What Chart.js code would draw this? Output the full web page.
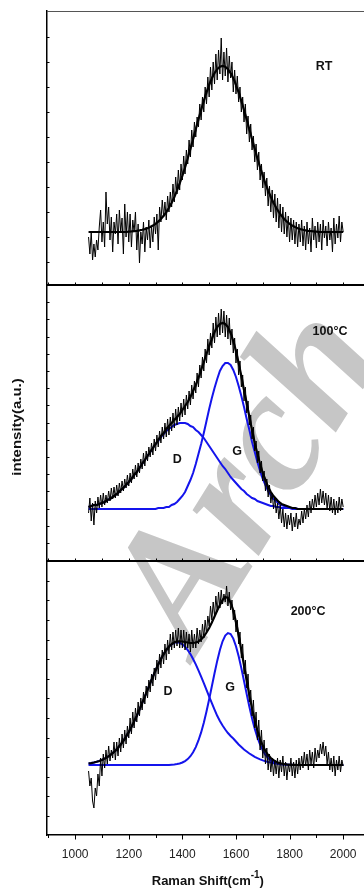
<!DOCTYPE html>
<html>
<head>
<meta charset="utf-8">
<title>Raman spectra</title>
<script src="https://cdn.jsdelivr.net/npm/chart.js@4.4.1/dist/chart.umd.min.js"></script>
<style>
    html, body { margin: 0; padding: 0; background: #fff; overflow: hidden; }
    #wrap { position: relative; width: 364px; height: 888px; overflow: hidden; }
    #chart { position: absolute; left: 0; top: 0; }
</style>
</head>
<body>
<div id="wrap"><canvas id="chart" width="370" height="888"></canvas></div>
<script>
// Raman shift grids (cm-1)
const shiftRaw = [
    1050,1055,1060,1065,1070,1075,1080,1085,1090,1095,
    1100,1105,1110,1115,1120,1125,1130,1135,1140,1145,
    1150,1155,1160,1165,1170,1175,1180,1185,1190,1195,
    1200,1205,1210,1215,1220,1225,1230,1235,1240,1245,
    1250,1255,1260,1265,1270,1275,1280,1285,1290,1295,
    1300,1305,1310,1315,1320,1325,1330,1335,1340,1345,
    1350,1355,1360,1365,1370,1375,1380,1385,1390,1395,
    1400,1405,1410,1415,1420,1425,1430,1435,1440,1445,
    1450,1455,1460,1465,1470,1475,1480,1485,1490,1495,
    1500,1505,1510,1515,1520,1525,1530,1535,1540,1545,
    1550,1555,1560,1565,1570,1575,1580,1585,1590,1595,
    1600,1605,1610,1615,1620,1625,1630,1635,1640,1645,
    1650,1655,1660,1665,1670,1675,1680,1685,1690,1695,
    1700,1705,1710,1715,1720,1725,1730,1735,1740,1745,
    1750,1755,1760,1765,1770,1775,1780,1785,1790,1795,
    1800,1805,1810,1815,1820,1825,1830,1835,1840,1845,
    1850,1855,1860,1865,1870,1875,1880,1885,1890,1895,
    1900,1905,1910,1915,1920,1925,1930,1935,1940,1945,
    1950,1955,1960,1965,1970,1975,1980,1985,1990,1995,
    2000
];
const shiftFit = [
    1050,1060,1070,1080,1090,1100,
    1110,1120,1130,1140,1150,1160,1170,1180,1190,1200,
    1210,1220,1230,1240,1250,1260,1270,1280,1290,1300,
    1310,1320,1330,1340,1350,1360,1370,1380,1390,1400,
    1410,1420,1430,1440,1450,1460,1470,1480,1490,1500,
    1510,1520,1530,1540,1550,1560,1570,1580,1590,1600,
    1610,1620,1630,1640,1650,1660,1670,1680,1690,1700,
    1710,1720,1730,1740,1750,1760,1770,1780,1790,1800,
    1810,1820,1830,1840,1850,1860,1870,1880,1890,1900,
    1910,1920,1930,1940,1950,1960,1970,1980,1990,2000
];

// RT spectrum
const rawRT = [
    25,8,30,2,18,5,22,12,35,52,
    20,40,15,70,38,55,22,45,10,40,
    28,48,18,52,30,44,8,58,25,50,
    20,48,15,42,30,50,12,38,-1,30,
    18,40,10,35,22,42,14,36,20,45,
    28,48,12,55,40,62,45,60,42,66,
    50,70,55,78,60,85,68,92,72,98,
    82,106,88,112,98,122,105,132,115,140,
    125,145,135,158,142,165,150,175,158,185,
    165,195,172,200,178,208,182,212,188,224,
    182,210,186,214,180,206,184,200,170,192,
    168,186,160,175,150,165,140,158,128,146,
    120,138,112,126,100,118,92,110,82,98,
    74,90,66,84,56,76,50,72,44,68,
    40,64,34,58,30,55,28,50,25,46,
    20,44,22,42,18,40,15,38,20,42,
    16,36,12,40,18,34,10,44,22,36,
    14,40,20,38,12,42,24,36,16,40,
    22,34,10,44,18,38,24,46,20,40,
    30
];
const fitRT = [
    30,30,30,30,30,30,
    30,30,30,30,30,30,30,30,30,30.4,
    30.6,30.9,31.2,31.6,32.2,32.9,33.8,35,36.4,38.2,
    40.4,43.1,46.2,49.9,54.3,59.3,65,71.4,78.5,86.3,
    94.7,103.7,113.1,122.8,132.7,142.5,152,161.2,169.6,177.2,
    183.7,189,192.8,195.2,196,195.2,192.8,189,183.7,177.2,
    169.6,161.2,152,142.5,132.7,122.8,113.1,103.7,94.7,86.3,
    78.5,71.4,65,59.3,54.3,49.9,46.2,43.1,40.4,38.2,
    36.4,35,33.8,32.9,32.2,31.6,31.2,30.9,30.6,30.4,
    30,30,30,30,30,30,30,30,30,30
];

// 100°C spectrum
const raw100 = [
    30,45,22,40,18,42,30,46,35,48,
    36,50,38,48,40,52,42,55,44,56,
    45,58,47,60,50,62,52,64,55,68,
    57,70,60,74,64,78,66,80,70,84,
    74,90,77,92,82,96,86,100,88,104,
    92,108,96,112,100,116,104,120,106,124,
    108,126,112,130,115,134,118,136,122,140,
    126,144,128,148,134,152,138,158,144,162,
    150,170,156,178,165,186,172,194,180,204,
    188,210,195,220,200,226,206,230,208,234,
    210,232,206,228,204,225,198,214,190,205,
    180,194,168,182,156,168,142,156,130,142,
    118,128,104,116,92,102,80,92,70,82,
    62,72,52,64,46,58,40,50,34,46,
    30,40,24,38,20,34,16,30,14,28,
    18,30,12,26,16,30,14,24,18,32,
    20,34,24,38,26,42,30,44,34,48,
    36,50,38,54,40,52,38,50,34,48,
    32,46,30,44,28,42,30,46,32,44,
    36
];
const fit100 = [
    36,37,38,38,39,40,
    41,43,44,46,48,50,53,55,58,61,
    64,68,71,75,79,83,87,91,95,99,
    103,107,110,114,117,120,123,126,129,133,
    137,141,146,152,158,165,173,181,189,197,
    204,211,216,219,220,219,216,210,202,192,
    180,167,153,140,126,113,100,89,79,70,
    63,56,51,47,44,41,39,38,37,36,
    35,35,34,34,34,34,34,34,34,34,
    34,34,34,34,34,34,34,34,34,34
];
const band100D = [
    36,37,38,38,39,40,
    41,43,44,46,48,50,53,55,58,61,
    64,68,71,75,79,83,87,91,95,99,
    102,106,109,112,114,116,118,119,120,120,
    120,119,117,116,113,111,108,105,101,97,
    93,89,85,81,77,74,70,66,63,60,
    57,54,52,49,47,45,44,42,41,40,
    39,38,37,37,36,36,35,35,35,35,
    34,34,34,34,34,34,34,34,34,34,
    34,34,34,34,34,34,34,34,34,34
];
const band100G = [
    34,34,34,34,34,34,
    34,34,34,34,34,34,34,34,34,34,
    34,34,34,34,34,34,34,34,34,34,
    35,35,35,36,36,38,39,41,44,47,
    51,57,63,70,79,89,99,110,122,134,
    145,155,164,172,177,180,180,178,173,166,
    157,147,136,124,113,101,91,81,72,64,
    58,52,48,44,42,39,38,37,36,35,
    35,35,34,34,34,34,34,34,34,34,
    34,34,34,34,34,34,34,34,34,34
];

// 200°C spectrum
const raw200 = [
    45,30,38,15,8,28,20,42,30,58,
    40,62,48,66,52,70,55,66,58,74,
    56,74,60,78,64,82,68,86,72,90,
    78,98,82,104,88,108,94,114,100,118,
    106,124,112,130,118,136,124,142,130,148,
    136,156,142,162,148,166,152,172,156,176,
    162,182,166,184,168,186,170,188,168,186,
    168,186,166,184,168,182,164,186,168,182,
    168,188,172,186,174,192,178,196,182,200,
    190,210,196,214,200,220,204,224,208,226,
    212,222,214,230,210,224,206,216,196,206,
    184,196,172,184,158,172,142,156,128,142,
    114,126,100,116,88,104,76,96,66,86,
    58,76,52,68,46,62,44,58,40,56,
    42,58,38,56,44,60,40,54,36,52,
    44,58,40,54,38,56,42,58,46,60,
    48,64,50,62,46,66,52,64,48,68,
    54,66,58,72,62,74,60,70,52,64,
    46,58,44,60,40,56,46,60,44,56,
    50
];
const fit200 = [
    52.5,52.9,53.5,54.2,55,56.1,
    57.4,58.9,60.7,62.9,65.3,68.2,71.5,75.2,79.4,83.9,
    89,94.4,100.2,106.4,112.8,119.4,126.1,132.8,139.3,145.6,
    151.6,157,161.9,166,169.5,172,173.7,174.6,174.7,174.5,
    174,173.5,173,173,173.5,174.5,176.5,179.5,183.5,188,
    193.5,199.5,205.5,211,216,219,218,213.5,205.5,194,
    180.5,166,150.5,135.4,120.8,107.4,95.5,85.3,76.9,70.2,
    65,61,58,55.8,54.3,53.1,52.5,52,51.6,51.3,
    51.2,51.1,51,51,51,51,51,51,51,51,
    51,51,51,51,51,51,51,51,51,51
];
const band200D = [
    52.5,52.9,53.5,54.2,55,56.1,
    57.4,58.9,60.7,62.9,65.3,68.2,71.5,75.2,79.4,83.9,
    89,94.4,100.2,106.4,112.8,119.4,126.1,132.8,139.3,145.6,
    151.6,157,161.9,166,169.3,171.7,173.2,173.7,173.2,171.7,
    169.3,166,161.9,157,151.6,145.6,139.3,132.8,126.1,119.4,
    112.8,106.4,100.2,95,90.5,86.5,83,80,77.5,74.5,
    71.5,69,66.5,64.5,62.5,60.8,59.2,57.8,56.6,55.6,
    54.8,54,53.4,52.8,52.4,52,51.8,51.6,51.4,51.3,
    51.2,51.1,51,51,51,51,51,51,51,51,
    51,51,51,51,51,51,51,51,51,51
];
const band200G = [
    51,51,51,51,51,51,
    51,51,51,51,51,51,51,51,51,51,
    51,51,51,51,51,51,51,51,51,51,
    51,51,51,51,51,51.3,51.5,51.9,52.5,53.5,
    54.9,56.9,59.8,63.7,68.9,75.5,83.6,93.3,104.5,116.8,
    129.8,142.8,155.1,166,174.7,180.5,182.9,181.9,177.4,169.8,
    159.7,147.9,135,121.9,109.3,97.6,87.3,78.5,71.3,65.6,
    61.2,58,55.6,54,52.9,52.1,51.7,51.4,51.2,51,
    51,51,51,51,51,51,51,51,51,51,
    51,51,51,51,51,51,51,51,51,51
];

// Axis ticks
const xTickValues = [900, 1000, 1100, 1200, 1300, 1400, 1500, 1600, 1700, 1800, 1900, 2000, 2100];
const xLabelTicks = [1000, 1200, 1400, 1600, 1800, 2000];
const yTicksRT = [0, 25, 50, 75, 100, 125, 150, 175, 200, 225];
const yTicks100 = [0, 17.2, 34.4, 51.6, 68.8, 86, 103.2, 120.4, 137.6, 154.8, 172, 189.2, 206.4, 223.6, 240.8];
const yTicks200 = [0, 19.6, 39.2, 58.8, 78.4, 98, 117.6, 137.2, 156.8, 176.4, 196, 215.6, 235.2];

// Text placed on the panels (x in cm-1, y in panel units)
const panelLabels = [
    { text: 'RT', axis: 'yRT', x: 1929, y: 195 },
    { text: '100°C', axis: 'y100', x: 1951, y: 211 },
    { text: '200°C', axis: 'y200', x: 1869, y: 204 },
    { text: 'D', axis: 'y100', x: 1381, y: 83 },
    { text: 'G', axis: 'y100', x: 1604, y: 91 },
    { text: 'D', axis: 'y200', x: 1346, y: 124 },
    { text: 'G', axis: 'y200', x: 1578, y: 128 }
];

const BLUE = '#1414ec';

function toPoints(xs, ys) {
    return xs.map((x, i) => ({ x: x, y: ys[i] }));
}

function rawSet(xs, ys, axis) {
    return { data: toPoints(xs, ys), yAxisID: axis, borderColor: '#000', borderWidth: 1, order: 2 };
}
function fitSet(xs, ys, axis) {
    return { data: toPoints(xs, ys), yAxisID: axis, borderColor: '#000', borderWidth: 2.2, order: 1 };
}
function bandSet(xs, ys, axis) {
    return { data: toPoints(xs, ys), yAxisID: axis, borderColor: BLUE, borderWidth: 2, order: 3 };
}

function stackedAxis(min, max, ticks, weight, stackWeight) {
    return {
        type: 'linear',
        position: 'left',
        stack: 'panels',
        stackWeight: stackWeight,
        weight: weight,
        min: min,
        max: max,
        grid: { display: false },
        ticks: { display: false },
        border: { display: true, color: '#000', width: 1.5 },
        afterBuildTicks: s => { s.ticks = ticks.map(v => ({ value: v })); },
        afterFit: s => { s.width = 47; }
    };
}

function line(ctx, x1, y1, x2, y2) {
    ctx.beginPath();
    ctx.moveTo(x1, y1);
    ctx.lineTo(x2, y2);
    ctx.stroke();
}

// Watermark underneath everything
const watermark = {
    id: 'watermark',
    beforeDraw(chart) {
        const ctx = chart.ctx;
        ctx.save();
        ctx.translate(195, 658);
        ctx.rotate(-58 * Math.PI / 180);
        ctx.font = 'italic bold 175px "Liberation Serif", serif';
        ctx.fillStyle = '#c6c6c6';
        ctx.textBaseline = 'alphabetic';
        ctx.fillText('Arch', 0, 0);
        ctx.restore();
    }
};

// Frame, inward ticks, panel separators and text
const frame = {
    id: 'frame',
    afterDatasetsDraw(chart) {
        const { ctx, chartArea: a, scales } = chart;
        ctx.save();
        ctx.lineCap = 'butt';

        // top border
        ctx.strokeStyle = '#555';
        ctx.lineWidth = 1;
        line(ctx, a.left, a.top + 0.5, a.right, a.top + 0.5);

        // separators between panels
        ctx.strokeStyle = '#000';
        ctx.lineWidth = 1.8;
        [scales.yRT.bottom, scales.y100.bottom].forEach(y => line(ctx, a.left, y, a.right, y));

        // small ticks on the separators, pointing into the upper panel
        ctx.lineWidth = 1;
        xTickValues.forEach(v => {
            const x = Math.round(scales.x.getPixelForValue(v)) + 0.5;
            [scales.yRT.bottom, scales.y100.bottom].forEach(y => line(ctx, x, y - 2.5, x, y));
        });

        // y ticks pointing inward
        ['yRT', 'y100', 'y200'].forEach(id => {
            const s = scales[id];
            s.ticks.forEach(t => {
                const y = Math.round(s.getPixelForValue(t.value)) + 0.5;
                line(ctx, a.left, y, a.left + 2.5, y);
            });
        });

        // x ticks below the bottom axis
        xTickValues.forEach(v => {
            const x = Math.round(scales.x.getPixelForValue(v)) + 0.5;
            const len = v % 200 === 0 ? 4.5 : 3;
            line(ctx, x, a.bottom, x, a.bottom + len);
        });
        ctx.restore();
    },
    afterDraw(chart) {
        const { ctx, scales } = chart;
        ctx.save();
        ctx.fillStyle = '#111';

        // labels inside panels
        ctx.font = 'bold 12.5px "Liberation Sans", Arial, sans-serif';
        ctx.textAlign = 'center';
        ctx.textBaseline = 'middle';
        panelLabels.forEach(l => {
            ctx.fillText(l.text, scales.x.getPixelForValue(l.x), scales[l.axis].getPixelForValue(l.y));
        });

        // y title
        ctx.save();
        ctx.translate(17.5, (scales.y100.top + scales.y100.bottom) / 2 + 4);
        ctx.rotate(-Math.PI / 2);
        ctx.scale(1.25, 1);
        ctx.font = 'bold 12px "Liberation Sans", Arial, sans-serif';
        ctx.textAlign = 'center';
        ctx.textBaseline = 'middle';
        ctx.fillText('intensity(a.u.)', 0, 0);
        ctx.restore();

        // x title with superscript
        const main = 'Raman Shift(cm';
        const sup = '-1';
        const close = ')';
        const big = 'bold 13px "Liberation Sans", Arial, sans-serif';
        const small = 'bold 10px "Liberation Sans", Arial, sans-serif';
        ctx.textAlign = 'left';
        ctx.textBaseline = 'alphabetic';
        ctx.font = big;
        const w1 = ctx.measureText(main).width;
        const w3 = ctx.measureText(close).width;
        ctx.font = small;
        const w2 = ctx.measureText(sup).width;
        const cx = scales.x.getPixelForValue(1495);
        let x = cx - (w1 + w2 + w3) / 2;
        const base = 885;
        ctx.font = big;
        ctx.fillText(main, x, base);
        x += w1;
        ctx.font = small;
        ctx.fillText(sup, x, base - 7);
        x += w2;
        ctx.font = big;
        ctx.fillText(close, x, base);
        ctx.restore();
    }
};

// Build chart
function createChart() {
    const ctx = document.getElementById('chart').getContext('2d');
    return new Chart(ctx, {
        type: 'line',
        data: {
            datasets: [
                rawSet(shiftRaw, rawRT, 'yRT'),
                fitSet(shiftFit, fitRT, 'yRT'),
                rawSet(shiftRaw, raw100, 'y100'),
                bandSet(shiftFit, band100D, 'y100'),
                bandSet(shiftFit, band100G, 'y100'),
                fitSet(shiftFit, fit100, 'y100'),
                rawSet(shiftRaw, raw200, 'y200'),
                bandSet(shiftFit, band200D, 'y200'),
                bandSet(shiftFit, band200G, 'y200'),
                fitSet(shiftFit, fit200, 'y200')
            ]
        },
        options: {
            responsive: false,
            animation: false,
            devicePixelRatio: 1,
            layout: { padding: { top: 11, right: 0, bottom: 0, left: 0 } },
            elements: {
                point: { radius: 0 },
                line: { tension: 0, fill: false }
            },
            plugins: {
                legend: { display: false },
                tooltip: { enabled: false }
            },
            scales: {
                x: {
                    type: 'linear',
                    min: 895,
                    max: 2100,
                    grid: { display: false },
                    border: { display: true, color: '#000', width: 1.5 },
                    ticks: {
                        autoSkip: false,
                        maxRotation: 0,
                        padding: 4,
                        color: '#222',
                        font: { family: '"Liberation Sans", Arial, sans-serif', size: 12 },
                        callback: v => xLabelTicks.includes(v) ? String(v) : ''
                    },
                    afterBuildTicks: s => { s.ticks = xTickValues.map(v => ({ value: v })); },
                    afterFit: s => {
                        s.height = 53;
                        s.paddingLeft = 0;
                        s.paddingRight = 0;
                    }
                },
                yRT: stackedAxis(-23, 251, yTicksRT, 3, 274),
                y100: stackedAxis(-18, 258, yTicks100, 2, 276),
                y200: stackedAxis(-19, 255, yTicks200, 1, 274)
            }
        },
        plugins: [watermark, frame]
    });
}

createChart();
</script>
</body>
</html>
